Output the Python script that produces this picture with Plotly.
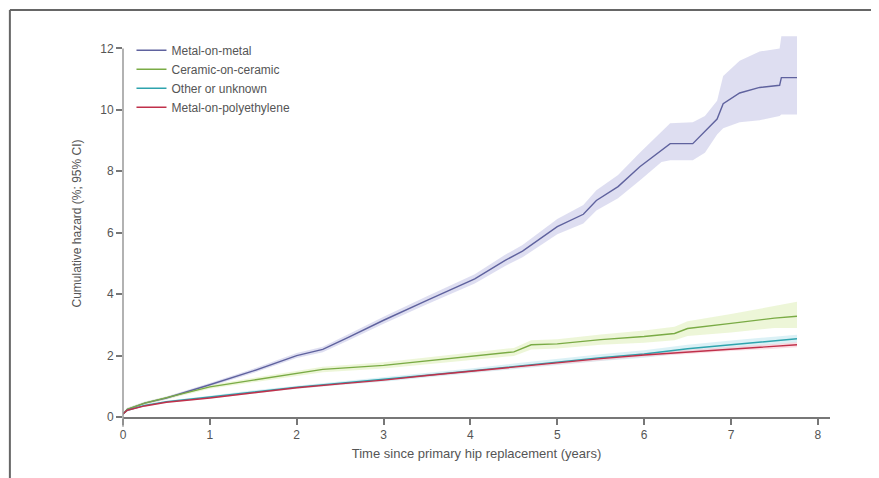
import plotly.graph_objects as go

# ---------------- data ----------------
mom_t = [0, 0.05, 0.25, 0.5, 1.0, 1.5, 2.0, 2.3, 2.6, 3.0, 3.5, 3.9, 4.05, 4.4, 4.6, 5.0, 5.3, 5.45, 5.7, 5.95, 6.2, 6.3, 6.56, 6.7, 6.84, 6.91, 7.1, 7.33, 7.56, 7.58, 7.76]
mom_v = [0.1, 0.25, 0.45, 0.62, 1.05, 1.5, 2.0, 2.2, 2.6, 3.15, 3.8, 4.3, 4.5, 5.1, 5.4, 6.2, 6.6, 7.05, 7.5, 8.15, 8.7, 8.9, 8.9, 9.3, 9.7, 10.2, 10.55, 10.73, 10.8, 11.05, 11.05]
mom_lo = [0.05, 0.2, 0.4, 0.57, 0.99, 1.43, 1.92, 2.11, 2.5, 3.04, 3.67, 4.15, 4.35, 4.92, 5.2, 5.95, 6.3, 6.72, 7.12, 7.7, 8.3, 8.36, 8.36, 8.6, 9.2, 9.4, 9.6, 9.66, 9.8, 9.85, 9.85]
mom_hi = [0.15, 0.3, 0.5, 0.67, 1.11, 1.57, 2.08, 2.29, 2.7, 3.26, 3.93, 4.45, 4.65, 5.28, 5.6, 6.45, 6.9, 7.38, 7.88, 8.6, 9.3, 9.56, 9.6, 9.8, 10.3, 11.1, 11.6, 11.9, 12.0, 12.4, 12.4]

cer_t = [0, 0.05, 0.25, 0.5, 1.0, 1.5, 2.0, 2.3, 3.0, 3.5, 4.0, 4.5, 4.7, 5.0, 5.5, 6.0, 6.35, 6.5, 7.0, 7.5, 7.76]
cer_v = [0.1, 0.25, 0.45, 0.62, 0.98, 1.2, 1.42, 1.55, 1.68, 1.82, 1.98, 2.12, 2.35, 2.38, 2.52, 2.62, 2.72, 2.88, 3.05, 3.22, 3.28]
cer_lo = [0.06, 0.2, 0.4, 0.57, 0.92, 1.13, 1.34, 1.46, 1.58, 1.71, 1.86, 1.99, 2.2, 2.23, 2.35, 2.42, 2.5, 2.64, 2.75, 2.9, 2.9]
cer_hi = [0.14, 0.3, 0.5, 0.67, 1.04, 1.27, 1.5, 1.64, 1.78, 1.93, 2.1, 2.25, 2.5, 2.53, 2.69, 2.82, 2.94, 3.12, 3.35, 3.6, 3.75]

oth_t = [0, 0.05, 0.25, 0.5, 1.0, 1.5, 2.0, 2.5, 3.0, 3.5, 4.0, 4.5, 5.0, 5.5, 6.0, 6.5, 7.0, 7.5, 7.76]
oth_v = [0.1, 0.22, 0.38, 0.5, 0.65, 0.82, 0.97, 1.1, 1.22, 1.36, 1.5, 1.65, 1.8, 1.93, 2.05, 2.22, 2.35, 2.48, 2.55]
oth_lo = [0.07, 0.19, 0.35, 0.47, 0.61, 0.77, 0.92, 1.04, 1.15, 1.29, 1.42, 1.56, 1.7, 1.82, 1.93, 2.09, 2.21, 2.34, 2.42]
oth_hi = [0.13, 0.25, 0.41, 0.53, 0.69, 0.87, 1.02, 1.16, 1.29, 1.43, 1.58, 1.74, 1.9, 2.04, 2.17, 2.35, 2.49, 2.62, 2.68]

mop_t = [0, 0.05, 0.25, 0.5, 1.0, 1.5, 2.0, 2.5, 3.0, 3.5, 4.0, 4.5, 5.0, 5.5, 6.0, 6.5, 7.0, 7.5, 7.76]
mop_v = [0.1, 0.22, 0.36, 0.48, 0.62, 0.79, 0.95, 1.08, 1.2, 1.35, 1.49, 1.63, 1.77, 1.9, 2.02, 2.12, 2.22, 2.3, 2.35]
mop_lo = [0.08, 0.2, 0.34, 0.46, 0.6, 0.77, 0.92, 1.05, 1.17, 1.31, 1.45, 1.58, 1.72, 1.84, 1.96, 2.05, 2.15, 2.22, 2.27]
mop_hi = [0.12, 0.24, 0.38, 0.5, 0.64, 0.81, 0.98, 1.11, 1.23, 1.39, 1.53, 1.68, 1.82, 1.96, 2.08, 2.19, 2.29, 2.38, 2.43]

names = ["Metal-on-metal", "Ceramic-on-ceramic", "Other or unknown", "Metal-on-polyethylene"]
line_colors = ["#5f629e", "#7aab45", "#2ea3ad", "#c0304a"]
band_colors = ["rgba(200,200,232,0.6)", "rgba(225,240,190,0.6)", "rgba(195,232,240,0.6)", "rgba(248,200,210,0.6)"]

x_ticks = [0, 1, 2, 3, 4, 5, 6, 7, 8]
y_ticks = [0, 2, 4, 6, 8, 10, 12]

series = [
    (mom_t, mom_v, mom_lo, mom_hi),
    (cer_t, cer_v, cer_lo, cer_hi),
    (oth_t, oth_v, oth_lo, oth_hi),
    (mop_t, mop_v, mop_lo, mop_hi),
]

fig = go.Figure()
# bands
for (t, v, lo, hi), bc in zip(series, band_colors):
    fig.add_trace(go.Scatter(x=t, y=lo, mode="lines", line=dict(width=0), showlegend=False, hoverinfo="skip"))
    fig.add_trace(go.Scatter(x=t, y=hi, mode="lines", line=dict(width=0), fill="tonexty",
                             fillcolor=bc, showlegend=False, hoverinfo="skip"))
# lines
for (t, v, lo, hi), nm, lc in zip(series, names, line_colors):
    fig.add_trace(go.Scatter(x=t, y=v, mode="lines", name=nm, line=dict(color=lc, width=1.4)))

font_fam = "Liberation Sans Narrow, Liberation Sans, Arial, sans-serif"
YMAX = 12.6
fig.update_layout(
    width=879, height=478,
    margin=dict(l=115, r=57, t=22, b=69, autoexpand=False),
    paper_bgcolor="white", plot_bgcolor="white",
    font=dict(family=font_fam, size=12, color="#555555"),
    showlegend=True,
    legend=dict(x=0.012, y=0.985, xanchor="left", yanchor="top", bgcolor="rgba(0,0,0,0)",
                traceorder="normal",
                font=dict(size=12, color="#555555"), itemwidth=30, tracegroupgap=0),
    xaxis=dict(range=[0, 8.14], tickvals=x_ticks, ticktext=[str(v) for v in x_ticks],
               showgrid=False, zeroline=False, showline=True, linecolor="#777777", linewidth=1.5,
               ticks="outside", ticklen=6, tickcolor="#777777", tickwidth=1.5,
               tickfont=dict(size=12, color="#555555"),
               title=dict(text="Time since primary hip replacement (years)", font=dict(size=13, color="#555555"), standoff=8)),
    yaxis=dict(range=[0, YMAX], tickvals=y_ticks, ticktext=[str(v) for v in y_ticks],
               showgrid=False, zeroline=False, showline=False,
               ticks="outside", ticklen=6, tickcolor="#777777", tickwidth=1.5,
               tickfont=dict(size=12, color="#555555"),
               title=dict(text="Cumulative hazard (%; 95% CI)", font=dict(size=12, color="#555555"), standoff=16)),
    shapes=[
        # y-axis line from slightly below 0 up to 12
        dict(type="line", xref="paper", yref="paper", x0=0, x1=0, y0=-0.025, y1=12 / YMAX,
             line=dict(color="#999999", width=1.5)),
        # outer frame (top and left)
        dict(type="line", xref="paper", yref="paper", x0=-0.16, x1=1.1, y0=1.052, y1=1.052,
             line=dict(color="#666666", width=2)),
        dict(type="line", xref="paper", yref="paper", x0=-0.16, x1=-0.16, y0=1.052, y1=-0.2,
             line=dict(color="#666666", width=2)),
    ],
)

fig.write_html("out.html")
